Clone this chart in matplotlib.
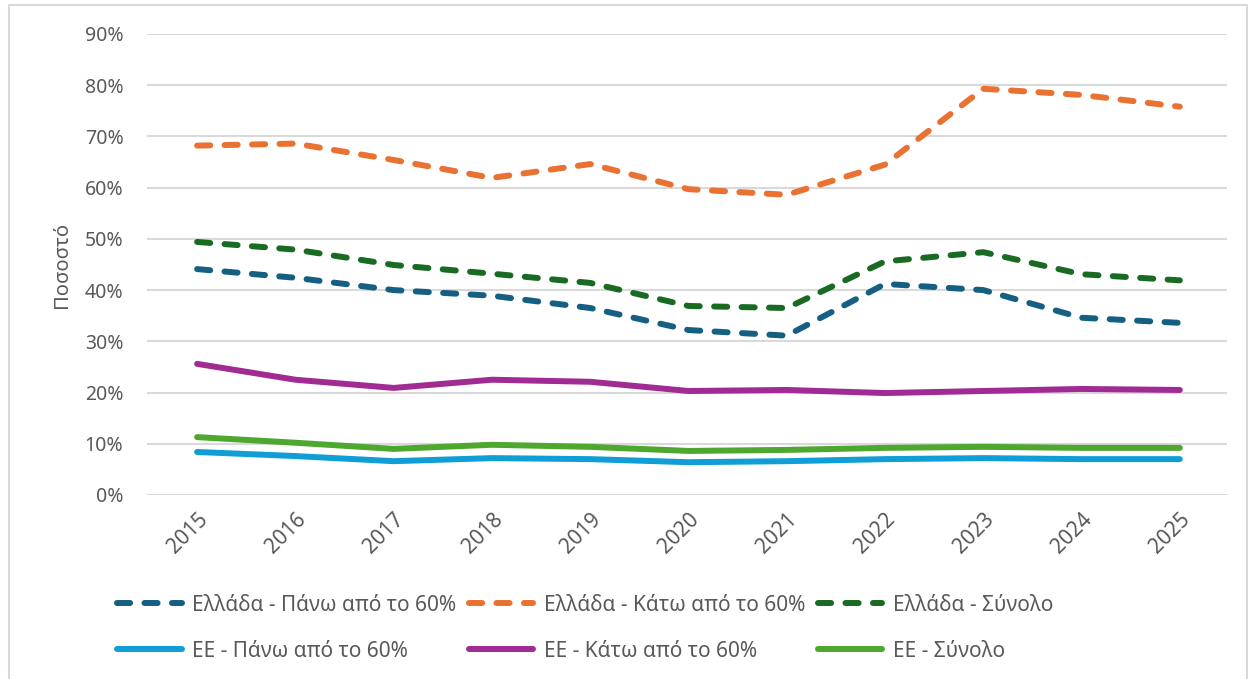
import matplotlib.pyplot as plt
from matplotlib.patches import Rectangle
from matplotlib.ticker import PercentFormatter

plt.rcParams['font.family'] = ['Noto Sans', 'DejaVu Sans']

years = ["2015", "2016", "2017", "2018", "2019", "2020", "2021", "2022", "2023", "2024", "2025"]

# Ελλάδα (dashed)
gr_above = [44.1, 42.4, 40.0, 38.9, 36.5, 32.2, 31.1, 41.2, 40.0, 34.6, 33.6]
gr_below = [68.2, 68.6, 65.4, 61.9, 64.6, 59.7, 58.6, 64.5, 79.3, 78.1, 75.8]
gr_total = [49.4, 47.9, 44.9, 43.2, 41.4, 36.9, 36.5, 45.6, 47.4, 43.1, 41.9]

# ΕΕ (solid)
eu_above = [8.4, 7.6, 6.6, 7.2, 7.0, 6.4, 6.6, 7.0, 7.2, 7.0, 7.0]
eu_below = [25.6, 22.5, 20.9, 22.5, 22.1, 20.3, 20.5, 19.9, 20.3, 20.7, 20.5]
eu_total = [11.3, 10.2, 9.0, 9.8, 9.4, 8.6, 8.8, 9.2, 9.4, 9.2, 9.2]

series = [
    ("Ελλάδα - Πάνω από το 60%", gr_above, "#156082", True),
    ("Ελλάδα - Κάτω από το 60%", gr_below, "#E97132", True),
    ("Ελλάδα - Σύνολο", gr_total, "#196B24", True),
    ("ΕΕ - Πάνω από το 60%", eu_above, "#0F9ED5", False),
    ("ΕΕ - Κάτω από το 60%", eu_below, "#A02B93", False),
    ("ΕΕ - Σύνολο", eu_total, "#4EA72E", False),
]

fig = plt.figure(figsize=(12.5, 6.79), dpi=100)
ax = fig.add_axes([0.1176, 0.271, 0.864, 0.679])

# outer chart border
fig.patches.append(Rectangle((9 / 1250, -0.05), 1238 / 1250, 1.05 - 5 / 679, transform=fig.transFigure,
                             fill=False, edgecolor="#D9D9D9", linewidth=1.5, zorder=0))

x = list(range(len(years)))
handles = {}
for label, vals, color, dashed in series:
    if dashed:
        line, = ax.plot(x, vals, color=color, linewidth=4.3, label=label,
                        dashes=(2.2, 2.4), dash_capstyle="round", solid_joinstyle="round")
    else:
        line, = ax.plot(x, vals, color=color, linewidth=4.3, label=label,
                        solid_capstyle="round", solid_joinstyle="round")
    handles[label] = line

ax.set_xlim(-0.51, len(years) - 0.52)
ax.set_ylim(0, 90)
ax.set_yticks(range(0, 91, 10))
ax.yaxis.set_major_formatter(PercentFormatter(decimals=0))
ax.set_xticks(x)
ax.set_xticklabels(years, rotation=45, ha="right", rotation_mode="anchor")
ax.tick_params(axis="both", length=0, labelcolor="#595959")
ax.tick_params(axis="x", pad=10, labelsize=15)
ax.tick_params(axis="y", pad=17, labelsize=14)
ax.grid(axis="y", color="#D9D9D9", linewidth=1.5)
ax.set_axisbelow(True)
for s in ax.spines.values():
    s.set_visible(False)
ax.set_ylabel("Ποσοστό", fontsize=14.5, color="#595959", labelpad=9)

order = [series[0][0], series[3][0], series[1][0], series[4][0], series[2][0], series[5][0]]
fig.legend([handles[k] for k in order], order, loc="center", bbox_to_anchor=(0.468, 0.075),
           ncol=3, frameon=False, fontsize=15, handlelength=3.1, handletextpad=0.5,
           columnspacing=0.6, labelspacing=1.2, labelcolor="#595959")

fig.savefig("out.png", dpi=100)
